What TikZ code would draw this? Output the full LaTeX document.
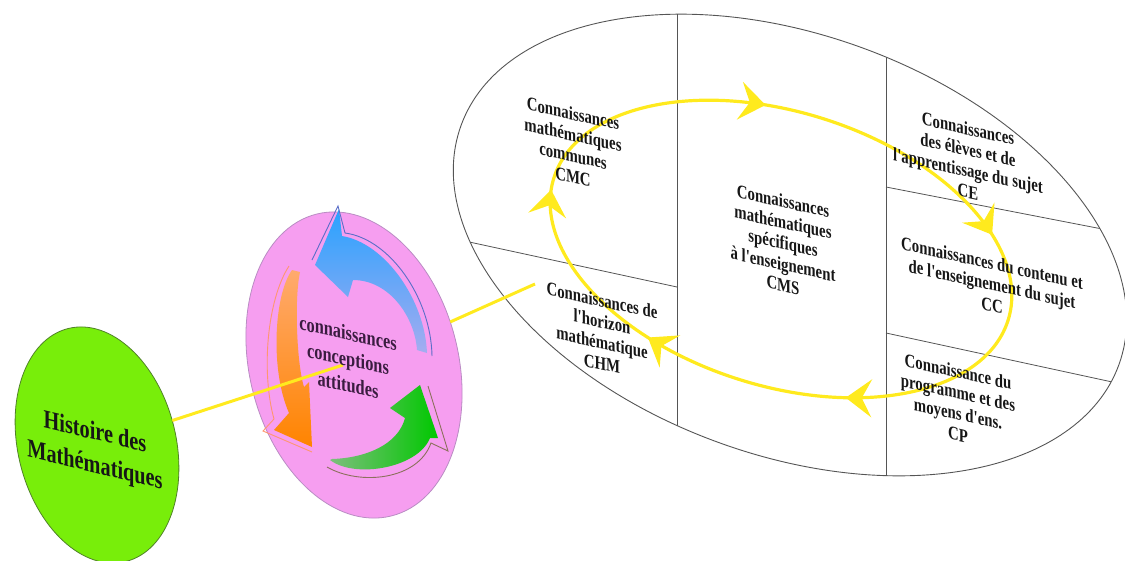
\documentclass[tikz,border=0pt]{standalone}
\usepackage{fontspec}
\setmainfont{Liberation Serif}
\newfontfamily\lblfont[FakeStretch=0.78]{Liberation Serif}
\usetikzlibrary{arrows.meta,shapes.geometric}

\definecolor{loopyellow}{RGB}{255,234,30}
\definecolor{pinkfill}{RGB}{246,158,240}
\definecolor{pinkedge}{RGB}{185,140,195}
\definecolor{limefill}{RGB}{120,238,10}
\definecolor{limeedge}{RGB}{80,130,40}
\definecolor{gridline}{RGB}{85,85,85}
\definecolor{inktext}{RGB}{22,22,22}
\definecolor{plumtext}{RGB}{58,28,64}
\definecolor{blueA}{RGB}{40,162,255}
\definecolor{blueB}{RGB}{165,172,240}
\definecolor{blueline}{RGB}{90,110,200}
\definecolor{orangeA}{RGB}{255,170,110}
\definecolor{orangeB}{RGB}{255,132,0}
\definecolor{orangeline}{RGB}{255,150,112}
\definecolor{greenA}{RGB}{125,190,125}
\definecolor{greenB}{RGB}{0,200,0}
\definecolor{greenline}{RGB}{140,112,92}

\tikzset{
  rimline/.style={draw=gridline, line width=0.9pt},
  cellline/.style={draw=gridline, line width=0.8pt},
  yline/.style={draw=loopyellow, line width=3pt},
  loophead/.style={draw=loopyellow, line width=3pt,
    -{Stealth[length=26pt,width=38pt,inset=10pt]}},
  cell/.style={font=\lblfont\bfseries\fontsize{19}{21}\selectfont,
    text=inktext, align=center, inner sep=0pt, yslant=-0.22},
  hubtext/.style={font=\lblfont\bfseries\fontsize{21}{26}\selectfont,
    text=plumtext, align=center, inner sep=0pt, yslant=-0.22},
  histtext/.style={font=\lblfont\bfseries\fontsize{26}{33}\selectfont,
    text=inktext, align=center, inner sep=0pt, yslant=-0.24},
  disc/.style={ellipse, inner sep=0pt, outer sep=0pt, line width=0.8pt, rotate=13.8}
}

\begin{document}
\begin{tikzpicture}[x=1pt,y=-1pt]
\useasboundingbox (0,0) rectangle (1125,560);
\clip (0,0) rectangle (1125,560);

% --- the two discs on the left
\node[disc, draw=limeedge, fill=limefill, minimum width=158pt, minimum height=240pt]
  (hist) at (97,445) {};
\node[disc, draw=pinkedge, fill=pinkfill, minimum width=209pt, minimum height=311pt]
  (pink) at (354,365) {};

% --- the big knowledge domain, divided into cells
\begin{scope}
  \clip[rotate around={-20:(790,245)}] (790,245) ellipse [x radius=350, y radius=210];
  \draw[cellline] (677,0) -- (677,560);
  \draw[cellline] (886,0) -- (886,560);
  \draw[cellline] (400,227) -- (677,287);
  \draw[cellline] (886,187) -- (1200,248);
  \draw[cellline] (886,333) -- (1200,401);
\end{scope}
\node[ellipse, rimline, inner sep=0pt, outer sep=0pt,
      minimum width=700pt, minimum height=420pt, rotate=-20] (big) at (790,245) {};

% --- yellow cycle through the cells
\draw[yline, line width=3.2pt, rotate around={-17.35:(781,249)}]
  (781,249) ellipse [x radius=238, y radius=137];
\draw[loophead] (749.8,102.4) -- (765.6,105.0);
\draw[loophead] (983.6,221.1) -- (992.1,234.7);
\draw[loophead] (861.7,398.1) -- (845.7,397.7);
\draw[loophead] (661.4,346.1) -- (647.9,337.5);
\draw[loophead] (548.7,205.5) -- (551.1,189.7);

% --- circular arrows inside the pink disc
\shade[top color=blueA, bottom color=blueB]
  (339,209) -- (342,236) .. controls (385,243) and (425,300) .. (427,353)
  -- (417,350) .. controls (415,318) and (390,280) .. (353,280)
  -- (348,297) -- (315,265) -- cycle;
\draw[blueline, line width=0.9pt]
  (312,260) -- (338,206) -- (345,233) .. controls (390,239) and (431,298) .. (432,356);

\shade[top color=orangeA, middle color=orangeB, bottom color=orangeB]
  (292,270) .. controls (274,295) and (270,370) .. (289,413)
  -- (274,430) -- (312,447) -- (309,382) -- (304,387)
  .. controls (297,365) and (294,300) .. (300,272) -- cycle;
\draw[orangeline, line width=0.9pt]
  (289,266) .. controls (267,300) and (261,372) .. (274,419) -- (263,431) -- (312,452);

\shade[left color=greenA, right color=greenB]
  (330,460) .. controls (355,479) and (418,468) .. (430,438)
  -- (438,438) -- (420,385) -- (390,408) -- (405,418)
  .. controls (398,445) and (365,458) .. (332,459) -- cycle;
\draw[greenline, line width=0.9pt]
  (327,467) .. controls (360,486) and (418,480) .. (431,443) -- (448,451) -- (428,386);

% --- connectors
\coordinate (hub) at (343,365);
\coordinate (chmend) at (535,284);
\draw[yline] (hist) -- (hub);
\draw[yline] (pink) -- (chmend);

% --- labels
\node[histtext] (histlbl) at (95,450) {Histoire des\\Mathématiques};
\node[hubtext] (hublbl) at (348,359) {connaissances\\conceptions\\attitudes};

\node[cell] (cmc) at (573,145) {Connaissances\\mathématiques\\communes\\CMC};
\node[cell] (cms) at (783,243) {Connaissances\\mathématiques\\spécifiques\\à l'enseignement\\CMS};
\node[cell] (ce) at (968,160) {Connaissances\\des élèves et de\\l'apprentissage du sujet\\CE};
\node[cell] (cc) at (992,284) {Connaissances du contenu et\\de l'enseignement du sujet\\CC};
\node[cell] (cp) at (958,403) {Connaissance du\\programme et des\\moyens d'ens.\\CP};
\node[cell] (chm) at (602,332) {Connaissances de\\l'horizon\\mathématique\\CHM};
\end{tikzpicture}
\end{document}
